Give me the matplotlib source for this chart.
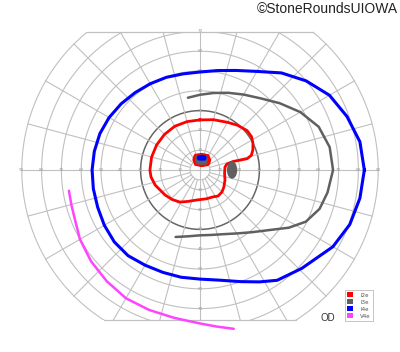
import numpy as np
import matplotlib
matplotlib.use("Agg")
import matplotlib.pyplot as plt
from matplotlib.patches import Patch, Ellipse, Rectangle

# isopters: meridian angle (deg, 0 = right, ccw) and eccentricity (deg)
i4e_ang = [0, 10, 20, 30, 40, 50, 60, 70, 80, 90, 100, 110, 120, 130, 140, 150, 160, 170, 180,
           190, 200, 210, 220, 230, 240, 250, 260, 270, 280, 290, 298, 305, 316, 330, 340, 350, 360]
i4e_ecc = [83, 82, 79, 75.5, 70, 64, 57.5, 53.5, 51, 49.5, 49.3, 49.8, 50.3, 51, 52, 53, 53.8, 54.2, 54.5,
           54.7, 55, 55.8, 56.5, 56.5, 55.5, 55, 55, 55.1, 56.5, 60, 64, 68, 71.5, 77.5, 80.5, 82, 83]

i3e_ang = [99.5, 90, 80, 70, 60, 50, 40, 30, 20, 10, 0, -10, -18, -26, -33, -40, -50, -60, -70, -80,
           -90, -100, -110]
i3e_ecc = [37, 38, 39.5, 41.5, 44, 47.3, 52.5, 58.5, 63.8, 66.5, 67.2, 65.4, 63.5, 59.5, 53.5, 47, 41,
           37, 34.5, 33.3, 33, 34, 36]

i2e_ang = [90, 75, 60, 50, 40, 33, 27, 21, 16, 13.5, 14, 14.4, 12.4, 6.8, -6.9, -22, -35.4, -45, -55.3,
           -64, -78.4, -95.6, -111, -122, -133.4, -144.5, -161.5, -172, 180, 165, 150, 135, 120, 105, 90]
i2e_ecc = [25.3, 26.3, 27.8, 29.5, 31, 31, 30, 28.6, 27, 24.5, 19.8, 17.2, 13.9, 12.7, 12.5, 13.6, 14.8,
           15.7, 16, 15.1, 14.9, 15.2, 17, 19.1, 20.5, 21.7, 23.9, 25, 25.3, 25.3, 25.3, 25.4, 25.5, 25.3, 25.3]

v4e_ang = [189, 195, 202, 210, 220, 230, 240, 250, 260, 270, 276, 282]
v4e_ecc = [67, 67.3, 68, 70, 71.8, 73.3, 74.8, 75.2, 75.8, 77.5, 79.5, 82]

# small central islands (x, y in degrees from fixation)
c_red_x = [-3.5, -3.0, -2.5, 0.8, 4.3, 5.3, 4.8, 4.0, 0.8, -2.5, -3.5]
c_red_y = [5.1, 7.0, 7.8, 8.3, 7.6, 5.1, 3.2, 2.3, 1.8, 2.5, 5.1]
c_gray_x = [-2.5, -2.0, 1.0, 3.5, 4.0, 3.5, 0.8, -2.0]
c_gray_y = [5.0, 7.5, 7.9, 7.3, 5.0, 2.9, 2.5, 3.0]
c_blue_x = [-1.7, -1.2, 1.0, 3.0, 3.4, 2.8, 0.8, -1.2]
c_blue_y = [6.0, 7.5, 7.7, 7.3, 6.0, 4.8, 4.7, 4.9]

blind_spot = (16.2, 0.0, 5.2, 8.8)  # x, y, width, height

labels = ["I2e", "I3e", "I4e", "V4e"]
colors = ["#ff0000", "#606060", "#0000ff", "#ff44ff"]


def polar_xy(ang, ecc):
    a = np.radians(ang)
    return np.asarray(ecc) * np.cos(a), np.asarray(ecc) * np.sin(a)


ppd = 1.98  # pixels per degree
cx, cy = 200, 170
fig = plt.figure(figsize=(4, 3.52), dpi=100)
ax = fig.add_axes([0, 0, 1, 1])
ax.set_xlim(-cx / ppd, (400 - cx) / ppd)
ax.set_ylim(-(352 - cy) / ppd, cy / ppd)
ax.axis("off")

top, bottom = 69.7, -75.8
band = Rectangle((-95, bottom), 190, top - bottom, transform=ax.transData, visible=False)
ax.add_patch(band)

grid_c = "#c0c0c0"
t = np.linspace(0, 2 * np.pi, 721)
for r in [5, 10, 20, 30, 40, 50, 60, 70, 80, 90]:
    col, lw = (grid_c, 0.8)
    if r == 30:
        col, lw = ("#666666", 1.1)
    ln, = ax.plot(r * np.cos(t), r * np.sin(t), color=col, lw=lw, zorder=1)
    ln.set_clip_path(band)
for a in range(0, 360, 15):
    r0 = 0 if a % 90 == 0 else 5
    x, y = polar_xy([a, a], [r0, 90])
    ln, = ax.plot(x, y, color=grid_c, lw=0.8, zorder=1)
    ln.set_clip_path(band)
for yy in (top, bottom):
    xe = np.sqrt(90 ** 2 - yy ** 2)
    ax.plot([-xe, xe], [yy, yy], color=grid_c, lw=0.9, zorder=1)

lab = dict(fontsize=3, color="#9a9a9a", ha="center", va="center", zorder=2)
for r in range(10, 100, 10):
    ax.text(r, 0, str(r), **lab)
    ax.text(-r, 0, str(r), **lab)
    if r <= 70:
        ax.text(0, r, str(r), **lab)
        ax.text(0, -r, str(r), **lab)

# isopters
x, y = polar_xy(i4e_ang, i4e_ecc)
ax.plot(x, y, color=colors[2], lw=2.2, solid_joinstyle="round", zorder=4)
x, y = polar_xy(i3e_ang, i3e_ecc)
ax.plot(x, y, color=colors[1], lw=1.8, solid_capstyle="round", solid_joinstyle="round", zorder=4)
x, y = polar_xy(i2e_ang, i2e_ecc)
ax.plot(x, y, color=colors[0], lw=2.0, solid_joinstyle="round", zorder=5)
x, y = polar_xy(v4e_ang, v4e_ecc)
ax.plot(x, y, color=colors[3], lw=1.8, solid_capstyle="round", solid_joinstyle="round", zorder=4)

ax.fill(c_red_x, c_red_y, facecolor=colors[0], edgecolor=colors[0], lw=1.0, zorder=6)
ax.fill(c_gray_x, c_gray_y, facecolor=colors[1], edgecolor="none", zorder=7)
ax.fill(c_blue_x, c_blue_y, facecolor=colors[2], edgecolor="none", zorder=8)
ax.add_patch(Ellipse(blind_spot[:2], blind_spot[2], blind_spot[3], facecolor=colors[1],
                     edgecolor="none", zorder=6))

fig.text(398 / 400, 1 - 9 / 352, "\u00a9StoneRoundsUIOWA", ha="right", va="center",
         fontsize=10, family="Liberation Sans", color="#222222")
fig.text(328 / 400, 1 - 318 / 352, "OD", ha="center", va="center",
         fontsize=7, family="Liberation Sans", color="#333333")

handles = [Patch(facecolor=c, edgecolor="none") for c in colors]
leg = fig.legend(handles, labels, loc="lower right", bbox_to_anchor=(373 / 400, 1 - 321 / 352),
                 fontsize=4, handlelength=1.0, handleheight=1.0, labelspacing=0.3,
                 borderpad=0.4, handletextpad=1.3, borderaxespad=0, fancybox=False,
                 edgecolor="#bbbbbb", framealpha=1)
leg.get_frame().set_linewidth(0.6)
for txt in leg.get_texts():
    txt.set_color("#555555")

fig.savefig("out.png", dpi=100)
